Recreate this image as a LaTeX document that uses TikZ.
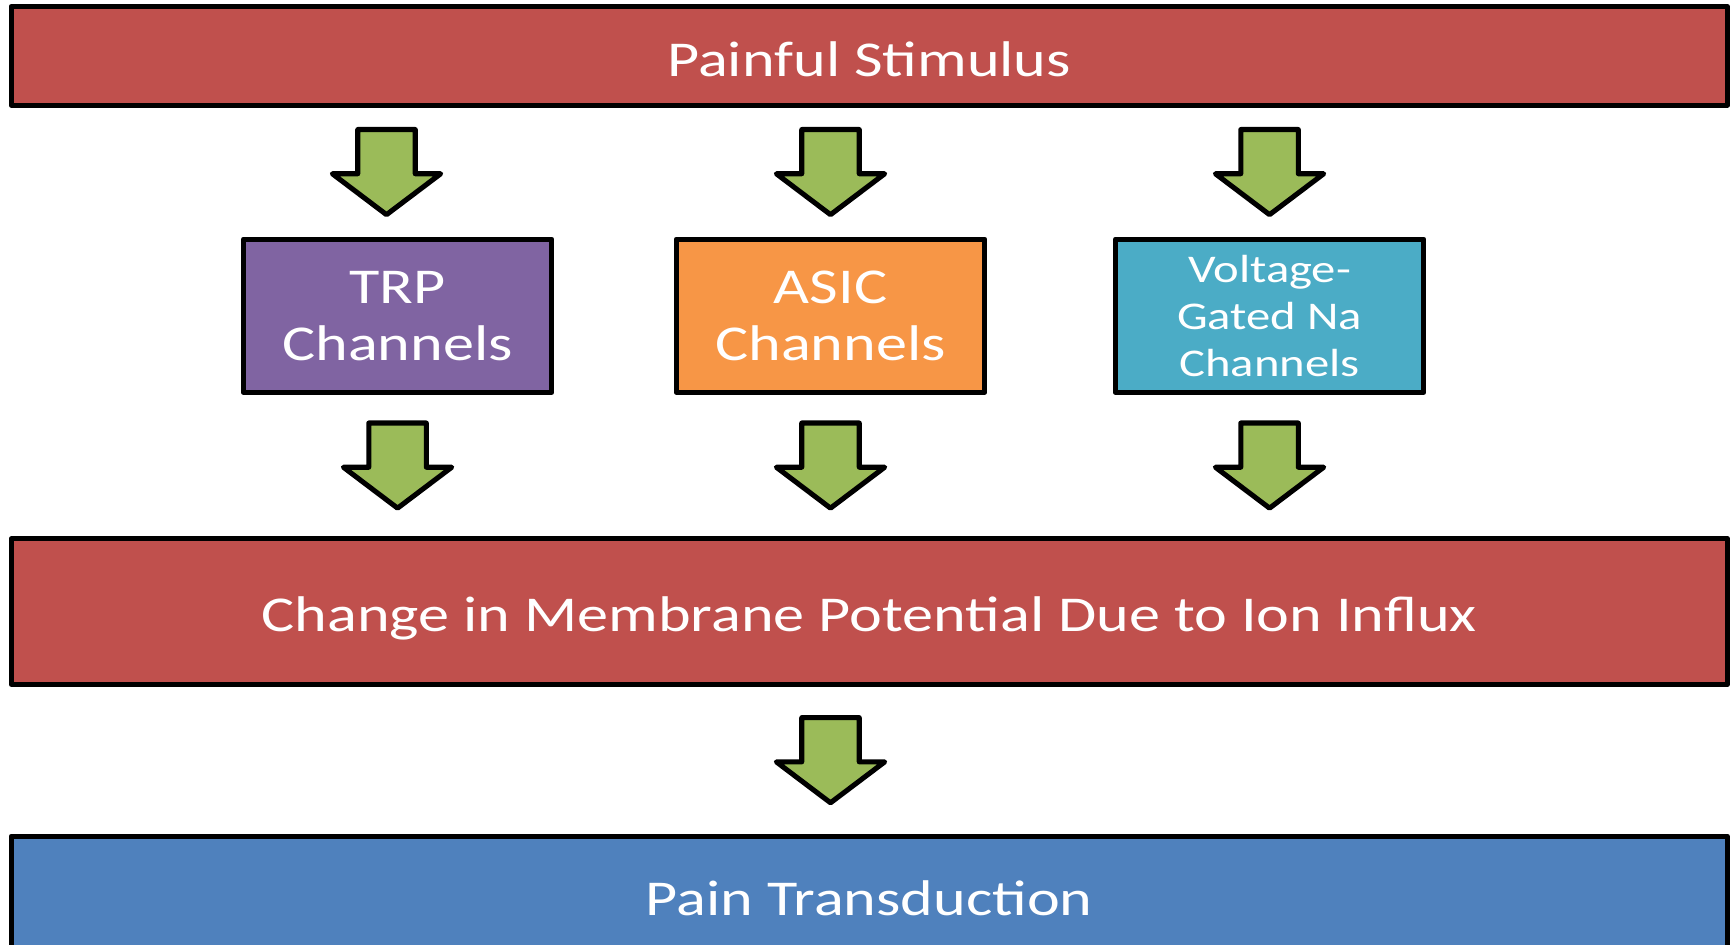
\documentclass[tikz,border=0pt]{standalone}
\usepackage{fontspec}
\setmainfont{Carlito}[FakeStretch=1.24]
\usetikzlibrary{calc}

\definecolor{stimred}{HTML}{C0504D}
\definecolor{trppurple}{HTML}{8064A2}
\definecolor{asicorange}{HTML}{F79646}
\definecolor{vgcyan}{HTML}{4BACC6}
\definecolor{painblue}{HTML}{4F81BD}
\definecolor{arrowgreen}{HTML}{9BBB59}

\begin{document}
\begin{tikzpicture}[bar/.style={rectangle,draw=black,line width=1.3pt,line join=round,text=white,inner sep=0pt,text height=10.4pt,text depth=0pt,minimum width=15.52cm,font=\fontsize{12.9}{14.7}\selectfont},
chan/.style={rectangle,draw=black,line width=1.3pt,line join=round,text=white,inner sep=0pt,align=center,minimum width=2.79cm,minimum height=1.385cm,font=\fontsize{12.9}{14.7}\selectfont},
blockarrow/.style={draw=black,fill=arrowgreen,line width=1.3pt,line join=round,
 to path={let \p1=(\tikztostart), \p2=(\tikztotarget) in
 ({\x2-0.26cm},{(\y1+\y2)/2+0.385cm}) -- ({\x2+0.26cm},{(\y1+\y2)/2+0.385cm}) -- ({\x2+0.26cm},{(\y1+\y2)/2-0.015cm})
 -- ({\x2+0.49cm},{(\y1+\y2)/2-0.015cm}) -- ({\x2},{(\y1+\y2)/2-0.385cm}) -- ({\x2-0.49cm},{(\y1+\y2)/2-0.015cm})
 -- ({\x2-0.26cm},{(\y1+\y2)/2-0.015cm}) -- cycle}}]

\useasboundingbox (0,0) rectangle (15.68,8.54);

\node[bar,fill=stimred,minimum height=0.89cm] (stim) at (7.86,8.035) {Painful Stimulus};

\node[chan,fill=trppurple] (trp) at (3.595,5.685) {TRP\\Channels};
\node[chan,fill=asicorange] (asic) at (7.51,5.685) {ASIC\\Channels};
\node[chan,fill=vgcyan,font=\fontsize{10.1}{12.1}\selectfont] (vg) at (11.48,5.685) {Voltage-\\Gated Na\\Channels};

\node[bar,fill=stimred,minimum height=1.315cm] (memb) at (7.86,3.01) {Change in Membrane Potential Due to Ion Influx};
\node[bar,fill=painblue,minimum height=1.0775cm] (pain) at (7.86,0.44) {Pain Transduction};

\draw[blockarrow] (stim.south) to ([xshift=-1mm]trp.north);
\draw[blockarrow] (stim.south) to (asic.north);
\draw[blockarrow] (stim.south) to (vg.north);

\draw[blockarrow] (trp.south) to (memb.north -| trp.south);
\draw[blockarrow] (asic.south) to (memb.north -| asic.south);
\draw[blockarrow] (vg.south) to (memb.north -| vg.south);

%\draw[blockarrow] (memb.south) to (pain.north);
\draw[blockarrow] (memb.south) to (pain.north -| asic.south);

\end{tikzpicture}
\end{document}
